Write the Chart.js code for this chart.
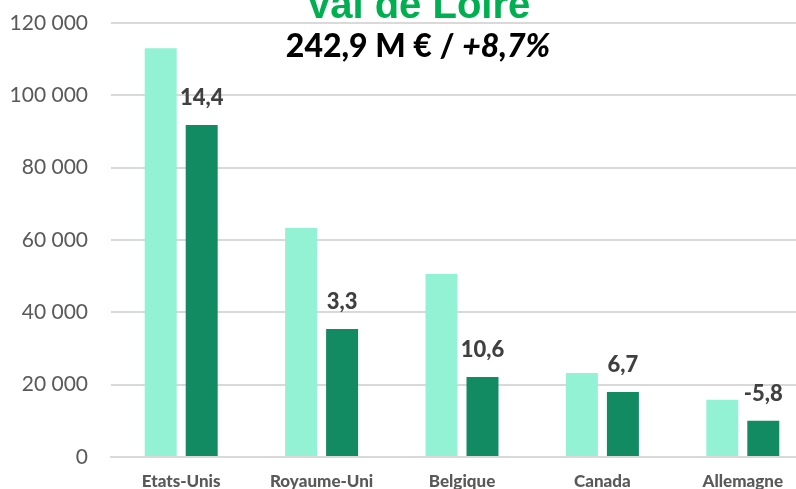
<!DOCTYPE html>
<html lang="fr">
<head>
  <meta charset="UTF-8" />
  <title>Val de Loire</title>
  <script src="https://cdn.jsdelivr.net/npm/chart.js"></script>
  <style>
    html, body { margin: 0; padding: 0; background: #fff; overflow: hidden; }
    #wrap { width: 796px; height: 489px; overflow: hidden; position: relative; }
    canvas { display: block; }
  </style>
</head>
<body>
  <div id="wrap">
    <canvas id="graphPays" width="814" height="489"></canvas>
  </div>

  <script>
    // marchés principaux
    const pays = ['Etats-Unis', 'Royaume-Uni', 'Belgique', 'Canada', 'Allemagne'];
    const valeursAvant = [113000, 63300, 50600, 23200, 15800];
    const valeursApres = [91800, 35400, 22100, 18000, 10000];
    const evolutions = ['14,4', '3,3', '10,6', '6,7', '-5,8'];
    const ticksY = [0, 20000, 40000, 60000, 80000, 100000, 120000];

    const titre = 'Val de Loire';
    const sousTitreGras = '242,9 M € / ';
    const sousTitreItal = '+8,7%';

    const formatMilliers = v => String(v).replace(/\B(?=(\d{3})+(?!\d))/g, ' ');

    // titre + sous-titre en haut
    const enTete = {
      id: 'enTete',
      afterDraw(chart) {
        const ctx = chart.ctx;
        const cx = 418;
        ctx.save();
        ctx.textBaseline = 'alphabetic';
        ctx.textAlign = 'center';
        ctx.fillStyle = '#00b050';
        ctx.font = 'bold 40px "Liberation Sans", Arial, sans-serif';
        ctx.fillText(titre, cx, 18);

        ctx.fillStyle = '#000';
        ctx.font = '900 32px Lato, sans-serif';
        const w1 = ctx.measureText(sousTitreGras).width;
        ctx.font = 'italic 900 32px Lato, sans-serif';
        const w2 = ctx.measureText(sousTitreItal).width;
        const x0 = cx - (w1 + w2) / 2;
        ctx.textAlign = 'left';
        ctx.font = '900 32px Lato, sans-serif';
        ctx.fillText(sousTitreGras, x0, 57);
        ctx.font = 'italic 900 32px Lato, sans-serif';
        ctx.fillText(sousTitreItal, x0 + w1, 57);
        ctx.restore();
      }
    };

    // évolutions au-dessus des barres foncées
    const etiquettes = {
      id: 'etiquettes',
      afterDatasetsDraw(chart) {
        const ctx = chart.ctx;
        const meta = chart.getDatasetMeta(1);
        ctx.save();
        ctx.fillStyle = '#404040';
        ctx.font = '900 22px Lato, sans-serif';
        ctx.textAlign = 'center';
        ctx.textBaseline = 'alphabetic';
        meta.data.forEach((bar, i) => {
          ctx.fillText(evolutions[i], bar.x, bar.y - 20);
        });
        ctx.restore();
      }
    };

    new Chart(document.getElementById('graphPays'), {
      type: 'bar',
      data: {
        labels: pays,
        datasets: [
          { label: 'N-1', data: valeursAvant, backgroundColor: '#94f2d4' },
          { label: 'N', data: valeursApres, backgroundColor: '#128a62' }
        ]
      },
      options: {
        responsive: false,
        animation: false,
        layout: { padding: { top: 23, right: 1, left: 0, bottom: 0 } },
        datasets: { bar: { categoryPercentage: 0.584, barPercentage: 0.78 } },
        plugins: { legend: { display: false }, tooltip: { enabled: false } },
        scales: {
          x: {
            grid: { display: false, drawTicks: false },
            border: { color: '#d9d9d9', width: 2 },
            ticks: {
              color: '#595959',
              font: { family: 'Lato', size: 17, weight: '900' },
              padding: 14
            },
            afterFit(scale) {
              scale.height = 32;
              scale.paddingLeft = 0;
              scale.paddingRight = 0;
            }
          },
          y: {
            min: 0,
            max: 120000,
            afterBuildTicks(scale) { scale.ticks = ticksY.map(v => ({ value: v })); },
            grid: { color: '#d9d9d9', lineWidth: 2, drawTicks: false },
            border: { display: false },
            ticks: {
              color: '#595959',
              font: { family: 'Lato', size: 21 },
              padding: 23,
              callback: v => formatMilliers(v)
            },
            afterFit(scale) {
              scale.width = 111;
              scale.paddingTop = 0;
              scale.paddingBottom = 0;
            }
          }
        }
      },
      plugins: [enTete, etiquettes]
    });
  </script>
</body>
</html>
